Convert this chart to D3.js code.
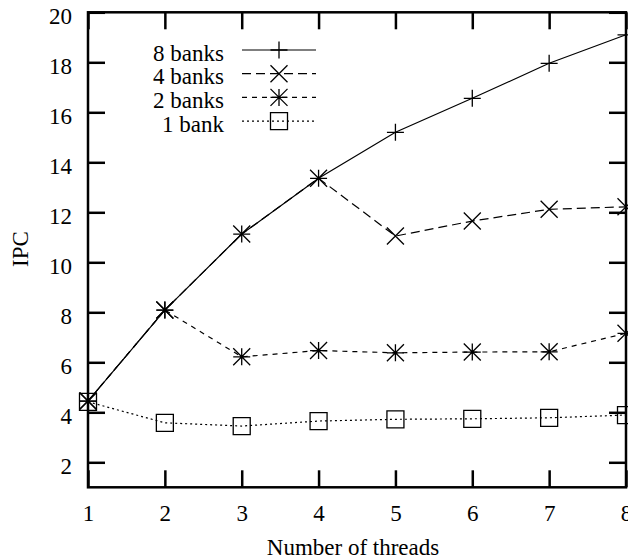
<!DOCTYPE html>
<html>
<head>
<meta charset="utf-8">
<script src="https://cdn.jsdelivr.net/npm/d3@7"></script>
<style>
  body { margin: 0; background: #fff; }
  svg { display: block; font-family: 'Liberation Serif', 'Times New Roman', serif; }
</style>
</head>
<body>
<div id="graf"></div>
<script>
// I. Datos
threads = [1, 2, 3, 4, 5, 6, 7, 8]
banks8 = [4.45, 8.09, 11.13, 13.36, 15.2, 16.56, 17.96, 19.1]
banks4 = [4.45, 8.09, 11.13, 13.36, 11.05, 11.65, 12.12, 12.22]
banks2 = [4.45, 8.09, 6.22, 6.47, 6.38, 6.41, 6.42, 7.16]
banks1 = [4.42, 3.58, 3.45, 3.65, 3.72, 3.74, 3.78, 3.89]
seriesNames = ['8 banks', '4 banks', '2 banks', '1 bank']
yTicks = [2, 4, 6, 8, 10, 12, 14, 16, 18, 20]

// II. Configuración
ancho_total = 628
alto_total = 560
margins = { top: 12.3, left: 88, right: 2, bottom: 72.7 }
ancho = ancho_total - margins.left - margins.right
alto = alto_total - margins.top - margins.bottom
fs = 23

svg = d3.select('#graf').append('svg')
        .attr('width', ancho_total)
        .attr('height', alto_total)

g = svg.append('g')
       .attr('transform', `translate(${ margins.left }, ${ margins.top })`)

x = d3.scaleLinear().domain([1, 8]).range([0, ancho])
y = d3.scaleLinear().domain([1, 20]).range([alto, 0])

series = [
  { name: seriesNames[0], values: banks8, dash: null, marker: 'plus' },
  { name: seriesNames[1], values: banks4, dash: '9,5', marker: 'cross' },
  { name: seriesNames[2], values: banks2, dash: '5,5', marker: 'star' },
  { name: seriesNames[3], values: banks1, dash: '2,3', marker: 'box' }
]

// marcadores
function markerPath(type, cx, cy) {
  let s = 8.5
  let p = d3.path()
  if (type === 'plus' || type === 'star') {
    p.moveTo(cx - s, cy); p.lineTo(cx + s, cy)
    p.moveTo(cx, cy - s); p.lineTo(cx, cy + s)
  }
  if (type === 'cross' || type === 'star') {
    p.moveTo(cx - s, cy - s); p.lineTo(cx + s, cy + s)
    p.moveTo(cx - s, cy + s); p.lineTo(cx + s, cy - s)
  }
  if (type === 'box') {
    p.rect(cx - s, cy - s, 2 * s, 2 * s)
  }
  return p.toString()
}

// III. Ejes
tickW = 2.5
xAxis = d3.axisBottom(x).tickValues(threads).tickSizeInner(-17).tickSizeOuter(0).tickFormat(d3.format('d'))
xTop = d3.axisTop(x).tickValues(threads).tickSizeInner(-17).tickSizeOuter(0).tickFormat('')
yAxis = d3.axisLeft(y).tickValues(yTicks).tickSizeInner(-17).tickSizeOuter(0).tickPadding(16)
yRight = d3.axisRight(y).tickValues(yTicks).tickSizeInner(-17).tickSizeOuter(0).tickFormat('')

gx = g.append('g').attr('transform', `translate(0, ${ alto })`).call(xAxis)
g.append('g').call(xTop)
gy = g.append('g').call(yAxis)
g.append('g').attr('transform', `translate(${ ancho }, 0)`).call(yRight)

g.selectAll('.domain').remove()
g.selectAll('.tick line').attr('stroke', '#000').attr('stroke-width', tickW)
g.selectAll('.tick text')
  .attr('font-family', "'Liberation Serif', serif")
  .attr('font-size', fs)
  .attr('fill', '#000')
gx.selectAll('.tick text').attr('y', 33.4).attr('dy', 0)
gy.selectAll('.tick text').attr('dy', 11).attr('x', -16)

g.append('rect')
  .attr('width', ancho).attr('height', alto)
  .attr('fill', 'none').attr('stroke', '#000').attr('stroke-width', tickW)

// títulos
svg.append('text')
   .attr('x', 353).attr('y', 554.5)
   .attr('text-anchor', 'middle').attr('font-size', fs)
   .text('Number of threads')
svg.append('text')
   .attr('transform', 'translate(28, 249) rotate(-90)')
   .attr('text-anchor', 'middle').attr('font-size', fs)
   .text('IPC')

// IV. Render
line = d3.line().x((d, i) => x(threads[i])).y(d => y(d))

series.forEach(s => {
  g.append('path')
   .attr('d', line(s.values))
   .attr('fill', 'none').attr('stroke', '#000').attr('stroke-width', 1.2)
   .attr('stroke-dasharray', s.dash)
  g.selectAll(null).data(s.values).enter()
   .append('path')
   .attr('d', (d, i) => markerPath(s.marker, x(threads[i]), y(d)))
   .attr('fill', 'none').attr('stroke', '#000').attr('stroke-width', 1.3)
})

// leyenda
leg = svg.append('g')
series.forEach((s, i) => {
  let ly = 50 + i * 23.7
  leg.append('text')
     .attr('x', 224).attr('y', ly + 10.5)
     .attr('text-anchor', 'end').attr('font-size', fs)
     .text(s.name)
  leg.append('line')
     .attr('x1', 242).attr('x2', 316).attr('y1', ly).attr('y2', ly)
     .attr('stroke', '#000').attr('stroke-width', 1.2)
     .attr('stroke-dasharray', s.dash)
  leg.append('path')
     .attr('d', markerPath(s.marker, 279, ly))
     .attr('fill', 'none').attr('stroke', '#000').attr('stroke-width', 1.3)
})
</script>
</body>
</html>
